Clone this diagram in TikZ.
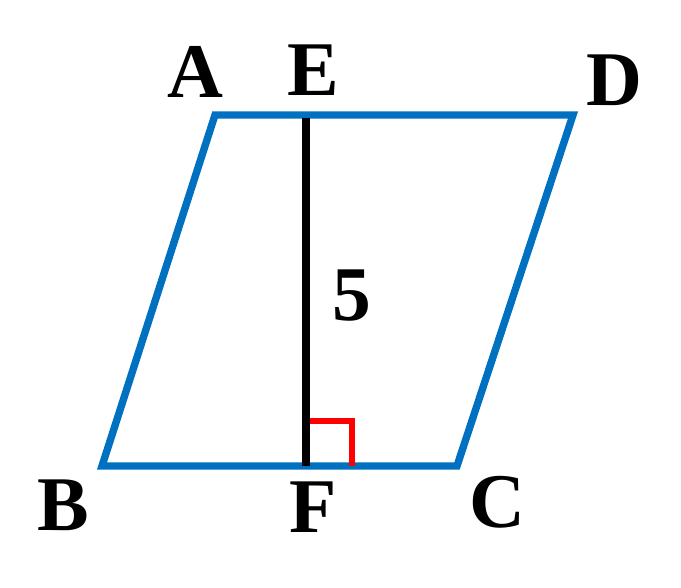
\documentclass[tikz,border=0pt]{standalone}
\usepackage{fontspec}
\setmainfont{Liberation Serif}
\definecolor{sideblue}{RGB}{0,112,192}
\begin{document}
\begin{tikzpicture}[x=0.01cm,y=-0.01cm,
  lbl/.style={font=\fontsize{22}{26}\selectfont\bfseries,inner sep=0pt},
  side/.style={draw=sideblue,line width=2.1pt,line join=miter},
  height/.style={draw=black,line width=2.3pt},
  rangle/.style={draw=red,line width=1.7pt}]
  \useasboundingbox (0,0) rectangle (681,588);
  \coordinate (A) at (215,115);
  \coordinate (D) at (573,115);
  \coordinate (C) at (457,466);
  \coordinate (B) at (102,466);
  \coordinate (E) at (306,118);
  \coordinate (F) at (306,466);
  \draw[side] (A) -- (D) -- (C) -- (B) -- cycle;
  \draw[rangle] (306,421) -- (352,421) -- (352,466);
  \draw[height] (E) -- (F);
  \node[lbl] (lA) at (195,72) {A};
  \node[lbl] (lE) at (313,70) {E};
  \node[lbl] (lD) at (614,80) {D};
  \node[lbl] (lB) at (63,505) {B};
  \node[lbl] (lF) at (313,507) {F};
  \node[lbl] (lC) at (497,502) {C};
  \node[lbl] (l5) at (352,296) {5};
\end{tikzpicture}
\end{document}
